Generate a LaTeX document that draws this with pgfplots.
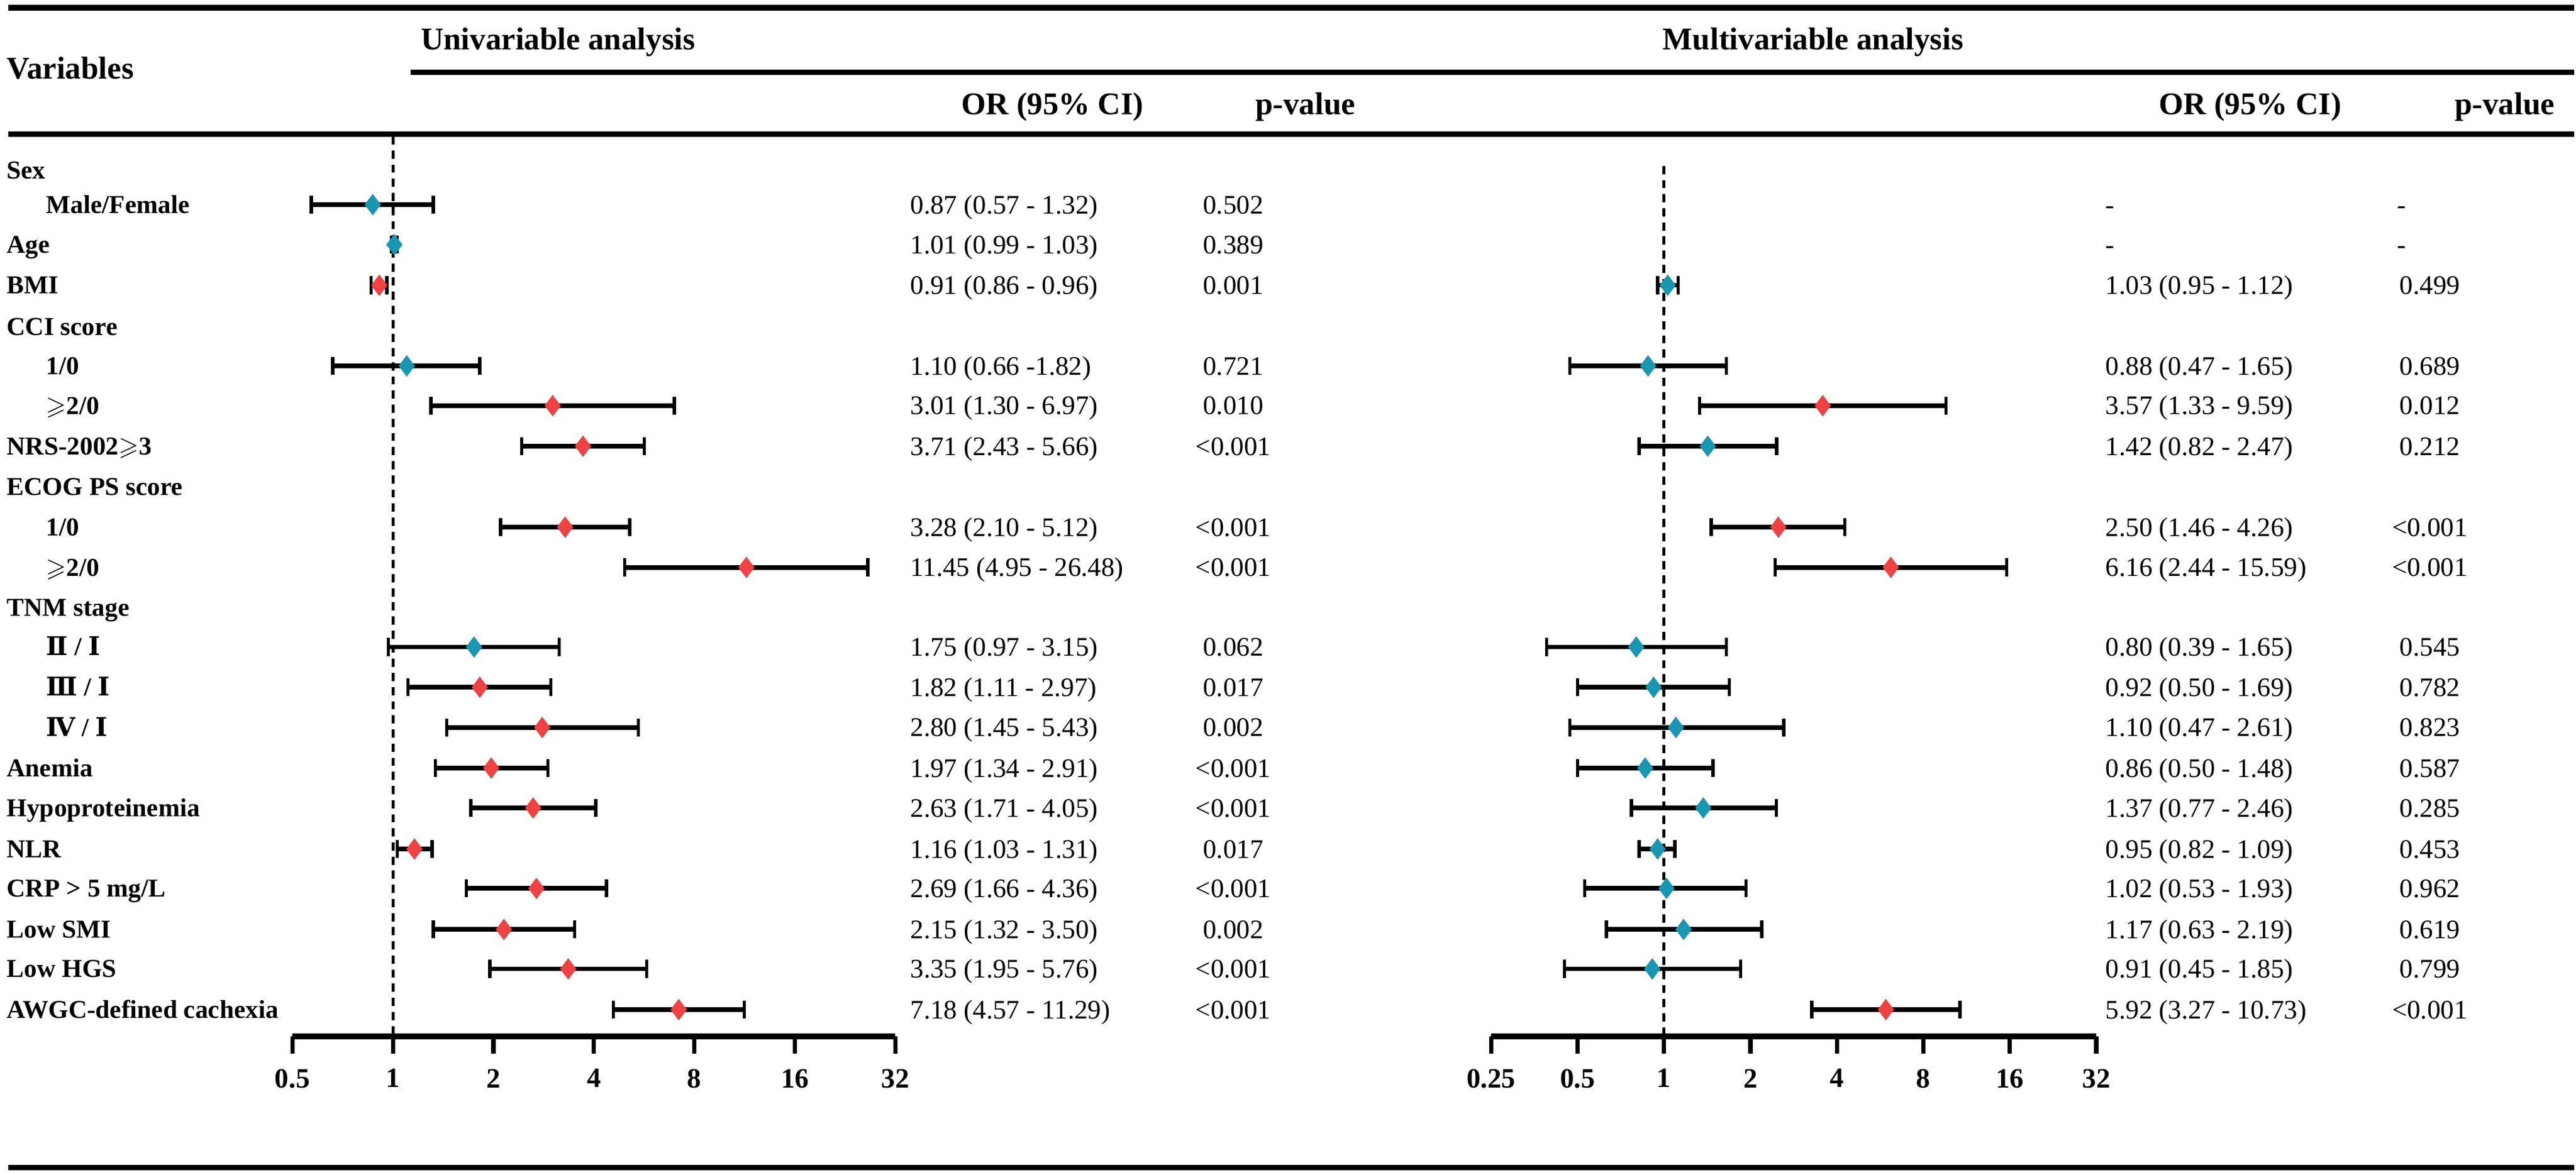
\documentclass[border=0pt]{standalone}
\usepackage{amssymb}
\usepackage{pgfplots}
\pgfplotsset{compat=1.18}
\usepackage{pgfplotstable}
\usepackage{fontspec}
\setmainfont{Liberation Serif}
\newfontfamily\rmn{DejaVu Serif}

\definecolor{cblue}{RGB}{24,150,178}
\definecolor{cred}{RGB}{240,66,66}

% y = row position (pt from top, negative), OR with 95% CI, n = not significant, s = significant
\pgfplotstableread{
y or lo hi sig
-124.6 0.87 0.57 1.32 n
-149 1.01 0.99 1.03 n
-173.7 0.91 0.86 0.96 s
-222.8 1.10 0.66 1.82 n
-247 3.01 1.30 6.97 s
-271.7 3.71 2.43 5.66 s
-321 3.28 2.10 5.12 s
-345.5 11.45 4.95 26.48 s
-394 1.75 0.97 3.15 n
-418.5 1.82 1.11 2.97 s
-443 2.80 1.45 5.43 s
-467.7 1.97 1.34 2.91 s
-492 2.63 1.71 4.05 s
-517 1.16 1.03 1.31 s
-541 2.69 1.66 4.36 s
-566 2.15 1.32 3.50 s
-590 3.35 1.95 5.76 s
-614.8 7.18 4.57 11.29 s
}\uni

\pgfplotstableread{
y or lo hi sig
-173.7 1.03 0.95 1.12 n
-222.8 0.88 0.47 1.65 n
-247 3.57 1.33 9.59 s
-271.7 1.42 0.82 2.47 n
-321 2.50 1.46 4.26 s
-345.5 6.16 2.44 15.59 s
-394 0.80 0.39 1.65 n
-418.5 0.92 0.50 1.69 n
-443 1.10 0.47 2.61 n
-467.7 0.86 0.50 1.48 n
-492 1.37 0.77 2.46 n
-517 0.95 0.82 1.09 n
-541 1.02 0.53 1.93 n
-566 1.17 0.63 2.19 n
-590 0.91 0.45 1.85 n
-614.8 5.92 3.27 10.73 s
}\multi

\tikzset{
  hd/.style={anchor=base west, inner sep=0pt, yshift=-6.4pt, font=\bfseries\fontsize{19.2}{22}\selectfont},
  lab/.style={anchor=base west, inner sep=0pt, yshift=-5.2pt, font=\bfseries\fontsize{15.7}{18}\selectfont},
  val/.style={anchor=base west, inner sep=0pt, yshift=-5.5pt, font=\fontsize{16.3}{18}\selectfont},
  pv/.style={anchor=base, inner sep=0pt, yshift=-5.5pt, font=\fontsize{16.3}{18}\selectfont},
}

\begin{document}
\begin{tikzpicture}[x=1pt, y=1pt]
\useasboundingbox (0,0) rectangle (1568,-715.5);

% table rules
\draw[line width=3.4pt] (5,-4.7) -- (1567,-4.7);
\draw[line width=3.4pt] (250,-44) -- (1567,-44);
\draw[line width=3.4pt] (5,-81.6) -- (1567,-81.6);
\draw[line width=3.4pt] (5,-711) -- (1567,-711);

% headers
\node[hd] at (4,-41.5) {Variables};
\node[hd] at (256,-23.7) {Univariable analysis};
\node[hd] at (1012,-23.7) {Multivariable analysis};
\node[hd] at (585,-63.2) {OR (95\% CI)};
\node[hd] at (764,-63.2) {p-value};
\node[hd] at (1314,-63.2) {OR (95\% CI)};
\node[hd] at (1494,-63.2) {p-value};

% univariable panel
\begin{axis}[
  scale only axis, anchor=south west, clip=false,
  at={(178pt,-631pt)}, width=367pt, height=548pt,
  xmode=log, log basis x=2,
  xmin=0.5, xmax=32, ymin=-631, ymax=-83,
  axis y line=none, ytick=\empty,
  axis x line*=bottom,
  x axis line style={line width=3.6pt, -},
  tick align=outside, major tick length=10.5pt,
  tick style={black, line width=2.6pt},
  minor xtick={},
  xtick={0.5,1,2,4,8,16,32},
  xticklabels={\textbf{0.5},\textbf{1},\textbf{2},\textbf{4},\textbf{8},\textbf{16},\textbf{32}},
  xticklabel style={font=\bfseries\fontsize{17}{17}\selectfont, yshift=-6pt},
]
  \addplot[black, line width=1.7pt, dash pattern=on 5pt off 3.6pt] coordinates {(1,-83) (1,-631)};
  \addplot[forget plot, only marks, mark=none,
    error bars/x dir=both, error bars/x explicit,
    error bars/error mark=-,
    error bars/error bar style={line width=2.8pt, black},
    error bars/error mark options={black, line width=2pt, mark size=5.5pt, rotate=90}]
    table[x=or, y=y,
      x error plus expr=\thisrow{hi}-\thisrow{or},
      x error minus expr=\thisrow{or}-\thisrow{lo}] {\uni};
  \addplot[scatter, only marks, scatter src=explicit symbolic, mark size=6.2pt,
    scatter/classes={
      n={mark=diamond*, draw=cblue, fill=cblue},
      s={mark=diamond*, draw=cred, fill=cred}}]
    table[x=or, y=y, meta=sig] {\uni};
\end{axis}

% multivariable panel
\begin{axis}[
  scale only axis, anchor=south west, clip=false,
  at={(907.6pt,-631pt)}, width=368.4pt, height=548pt,
  xmode=log, log basis x=2,
  xmin=0.25, xmax=32, ymin=-631, ymax=-83,
  axis y line=none, ytick=\empty,
  axis x line*=bottom,
  x axis line style={line width=3.6pt, -},
  tick align=outside, major tick length=10.5pt,
  tick style={black, line width=2.6pt},
  minor xtick={},
  xtick={0.25,0.5,1,2,4,8,16,32},
  xticklabels={\textbf{0.25},\textbf{0.5},\textbf{1},\textbf{2},\textbf{4},\textbf{8},\textbf{16},\textbf{32}},
  xticklabel style={font=\bfseries\fontsize{17}{17}\selectfont, yshift=-6pt},
]
  \addplot[black, line width=1.7pt, dash pattern=on 5pt off 3.6pt] coordinates {(1,-101) (1,-631)};
  \addplot[forget plot, only marks, mark=none,
    error bars/x dir=both, error bars/x explicit,
    error bars/error mark=-,
    error bars/error bar style={line width=2.8pt, black},
    error bars/error mark options={black, line width=2pt, mark size=5.5pt, rotate=90}]
    table[x=or, y=y,
      x error plus expr=\thisrow{hi}-\thisrow{or},
      x error minus expr=\thisrow{or}-\thisrow{lo}] {\multi};
  \addplot[scatter, only marks, scatter src=explicit symbolic, mark size=6.2pt,
    scatter/classes={
      n={mark=diamond*, draw=cblue, fill=cblue},
      s={mark=diamond*, draw=cred, fill=cred}}]
    table[x=or, y=y, meta=sig] {\multi};
\end{axis}

% row labels
\node[lab] at (4,-103.6) {Sex};
\node[lab] at (28,-124.6) {Male/Female};
\node[lab] at (4,-149) {Age};
\node[lab] at (4,-173.7) {BMI};
\node[lab] at (4,-199) {CCI score};
\node[lab] at (28,-222.8) {1/0};
\node[lab] at (28,-247) {$\geqslant$2/0};
\node[lab] at (4,-271.7) {NRS-2002$\geqslant$3};
\node[lab] at (4,-296.5) {ECOG PS score};
\node[lab] at (28,-321) {1/0};
\node[lab] at (28,-345.5) {$\geqslant$2/0};
\node[lab] at (4,-370) {TNM stage};
\node[lab] at (28,-394) {{\rmn Ⅱ} / {\rmn Ⅰ}};
\node[lab] at (28,-418.5) {{\rmn Ⅲ} / {\rmn Ⅰ}};
\node[lab] at (28,-443) {{\rmn Ⅳ} / {\rmn Ⅰ}};
\node[lab] at (4,-467.7) {Anemia};
\node[lab] at (4,-492) {Hypoproteinemia};
\node[lab] at (4,-517) {NLR};
\node[lab] at (4,-541) {CRP > 5 mg/L};
\node[lab] at (4,-566) {Low SMI};
\node[lab] at (4,-590) {Low HGS};
\node[lab] at (4,-614.8) {AWGC-defined cachexia};

% univariable values
\node[val] at (554,-124.6) {0.87 (0.57 - 1.32)};   \node[pv] at (750.7,-124.6) {0.502};
\node[val] at (554,-149)   {1.01 (0.99 - 1.03)};   \node[pv] at (750.7,-149)   {0.389};
\node[val] at (554,-173.7) {0.91 (0.86 - 0.96)};   \node[pv] at (750.7,-173.7) {0.001};
\node[val] at (554,-222.8) {1.10 (0.66 -1.82)};    \node[pv] at (750.7,-222.8) {0.721};
\node[val] at (554,-247)   {3.01 (1.30 - 6.97)};   \node[pv] at (750.7,-247)   {0.010};
\node[val] at (554,-271.7) {3.71 (2.43 - 5.66)};   \node[pv] at (750.7,-271.7) {<0.001};
\node[val] at (554,-321)   {3.28 (2.10 - 5.12)};   \node[pv] at (750.7,-321)   {<0.001};
\node[val] at (554,-345.5) {11.45 (4.95 - 26.48)}; \node[pv] at (750.7,-345.5) {<0.001};
\node[val] at (554,-394)   {1.75 (0.97 - 3.15)};   \node[pv] at (750.7,-394)   {0.062};
\node[val] at (554,-418.5) {1.82 (1.11 - 2.97)};   \node[pv] at (750.7,-418.5) {0.017};
\node[val] at (554,-443)   {2.80 (1.45 - 5.43)};   \node[pv] at (750.7,-443)   {0.002};
\node[val] at (554,-467.7) {1.97 (1.34 - 2.91)};   \node[pv] at (750.7,-467.7) {<0.001};
\node[val] at (554,-492)   {2.63 (1.71 - 4.05)};   \node[pv] at (750.7,-492)   {<0.001};
\node[val] at (554,-517)   {1.16 (1.03 - 1.31)};   \node[pv] at (750.7,-517)   {0.017};
\node[val] at (554,-541)   {2.69 (1.66 - 4.36)};   \node[pv] at (750.7,-541)   {<0.001};
\node[val] at (554,-566)   {2.15 (1.32 - 3.50)};   \node[pv] at (750.7,-566)   {0.002};
\node[val] at (554,-590)   {3.35 (1.95 - 5.76)};   \node[pv] at (750.7,-590)   {<0.001};
\node[val] at (554,-614.8) {7.18 (4.57 - 11.29)};  \node[pv] at (750.7,-614.8) {<0.001};

% multivariable values
\node[val] at (1281.5,-124.6) {-};                    \node[pv] at (1462,-124.6) {-};
\node[val] at (1281.5,-149)   {-};                    \node[pv] at (1462,-149)   {-};
\node[val] at (1281.5,-173.7) {1.03 (0.95 - 1.12)};   \node[pv] at (1479,-173.7) {0.499};
\node[val] at (1281.5,-222.8) {0.88 (0.47 - 1.65)};   \node[pv] at (1479,-222.8) {0.689};
\node[val] at (1281.5,-247)   {3.57 (1.33 - 9.59)};   \node[pv] at (1479,-247)   {0.012};
\node[val] at (1281.5,-271.7) {1.42 (0.82 - 2.47)};   \node[pv] at (1479,-271.7) {0.212};
\node[val] at (1281.5,-321)   {2.50 (1.46 - 4.26)};   \node[pv] at (1479,-321)   {<0.001};
\node[val] at (1281.5,-345.5) {6.16 (2.44 - 15.59)};  \node[pv] at (1479,-345.5) {<0.001};
\node[val] at (1281.5,-394)   {0.80 (0.39 - 1.65)};   \node[pv] at (1479,-394)   {0.545};
\node[val] at (1281.5,-418.5) {0.92 (0.50 - 1.69)};   \node[pv] at (1479,-418.5) {0.782};
\node[val] at (1281.5,-443)   {1.10 (0.47 - 2.61)};   \node[pv] at (1479,-443)   {0.823};
\node[val] at (1281.5,-467.7) {0.86 (0.50 - 1.48)};   \node[pv] at (1479,-467.7) {0.587};
\node[val] at (1281.5,-492)   {1.37 (0.77 - 2.46)};   \node[pv] at (1479,-492)   {0.285};
\node[val] at (1281.5,-517)   {0.95 (0.82 - 1.09)};   \node[pv] at (1479,-517)   {0.453};
\node[val] at (1281.5,-541)   {1.02 (0.53 - 1.93)};   \node[pv] at (1479,-541)   {0.962};
\node[val] at (1281.5,-566)   {1.17 (0.63 - 2.19)};   \node[pv] at (1479,-566)   {0.619};
\node[val] at (1281.5,-590)   {0.91 (0.45 - 1.85)};   \node[pv] at (1479,-590)   {0.799};
\node[val] at (1281.5,-614.8) {5.92 (3.27 - 10.73)};  \node[pv] at (1479,-614.8) {<0.001};
\end{tikzpicture}
\end{document}
